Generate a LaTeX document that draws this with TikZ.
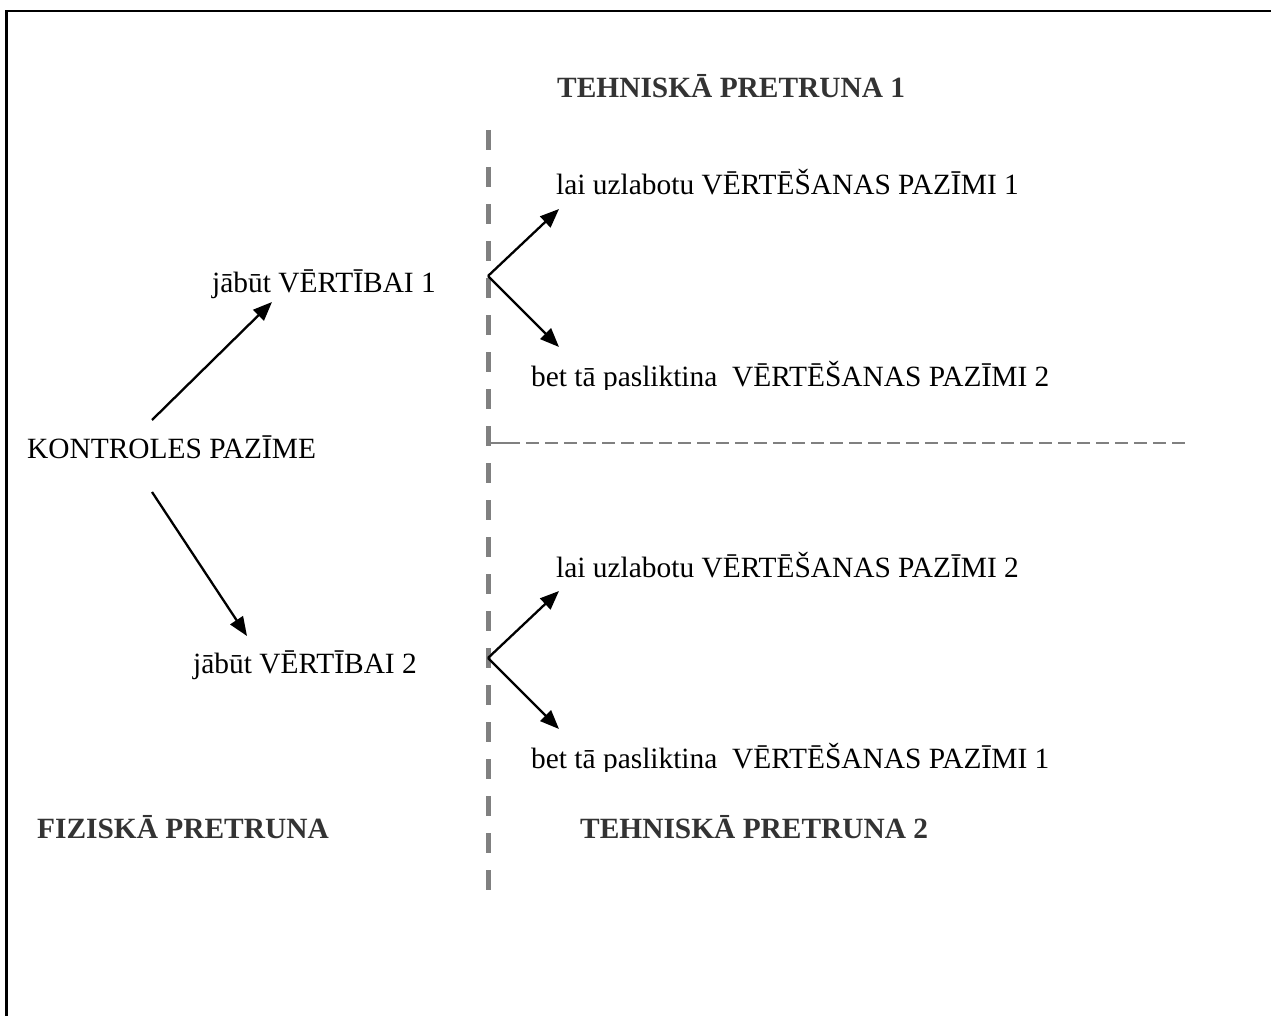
\documentclass[tikz,border=0pt]{standalone}
\usepackage{fontspec}
\setmainfont{Liberation Serif}
\usetikzlibrary{arrows.meta}
\definecolor{divider}{RGB}{128,128,128}
\definecolor{titlegray}{RGB}{51,51,51}
\tikzset{
  txt/.style={anchor=base west, inner sep=0pt, font=\fontsize{29.4}{34}\selectfont},
  ttl/.style={txt, font=\fontsize{29.4}{34}\selectfont\bfseries, text=titlegray},
  arr/.style={line width=2.3pt, -{Triangle[length=19pt,width=15pt]}},
  vdiv/.style={draw=divider, line width=5pt, dash pattern=on 20pt off 17pt},
  hdiv/.style={draw=divider, line width=2.5pt, dash pattern=on 13pt off 6pt},
}
\begin{document}
\begin{tikzpicture}[x=1pt, y=-1pt]
\useasboundingbox (0,0) rectangle (1271,1016);
% frame
\draw[line width=2.5pt] (6.5,1016) -- (6.5,11) -- (1271,11);

% dividers
\coordinate (vtop) at (488,130);
\coordinate (vbot) at (488,890);
\coordinate (hl) at (488,443);
\coordinate (hr) at (1185,443);
\draw[vdiv] (vtop) -- (vbot);
\draw[draw=divider, line width=2.5pt] (hl) -- (507,443);
\draw[hdiv] (507,443) -- (hr);

% titles
\node[ttl] (t1) at (557,98) {TEHNISKĀ PRETRUNA 1};
\node[ttl] (t2) at (580,838) {TEHNISKĀ PRETRUNA 2};
\node[ttl] (fp) at (37,838) {FIZISKĀ PRETRUNA};

% left side
\node[txt] (kp) at (27,458) {KONTROLES PAZĪME};
\node[txt] (v1) at (212,292) {jābūt VĒRTĪBAI 1};
\node[txt] (v2) at (193,673) {jābūt VĒRTĪBAI 2};

\coordinate (kpu) at (152,420);
\coordinate (v1a) at (272,302);
\coordinate (kpd) at (152,492);
\coordinate (v2a) at (247,636);
\draw[arr] (kpu) -- (v1a);
\draw[arr] (kpd) -- (v2a);

% right side, upper block (last line cut off at its box edge)
\node[txt] (u1) at (556,195) {lai uzlabotu VĒRTĒŠANAS PAZĪMI 1};
\begin{scope}
  \clip (520,345) rectangle (1100,389);
  \node[txt] (w1) at (531,386) {bet tā pasliktina\ \ VĒRTĒŠANAS PAZĪMI 2};
\end{scope}
\coordinate (f1) at (488,276);
\coordinate (u1a) at (559,209);
\coordinate (w1a) at (559,347);
\draw[arr] (f1) -- (u1a);
\draw[arr] (f1) -- (w1a);

% right side, lower block
\node[txt] (u2) at (556,577) {lai uzlabotu VĒRTĒŠANAS PAZĪMI 2};
\begin{scope}
  \clip (520,727) rectangle (1100,771);
  \node[txt] (w2) at (531,768) {bet tā pasliktina\ \ VĒRTĒŠANAS PAZĪMI 1};
\end{scope}
\coordinate (f2) at (488,658);
\coordinate (u2a) at (559,591);
\coordinate (w2a) at (559,729);
\draw[arr] (f2) -- (u2a);
\draw[arr] (f2) -- (w2a);
\end{tikzpicture}
\end{document}
